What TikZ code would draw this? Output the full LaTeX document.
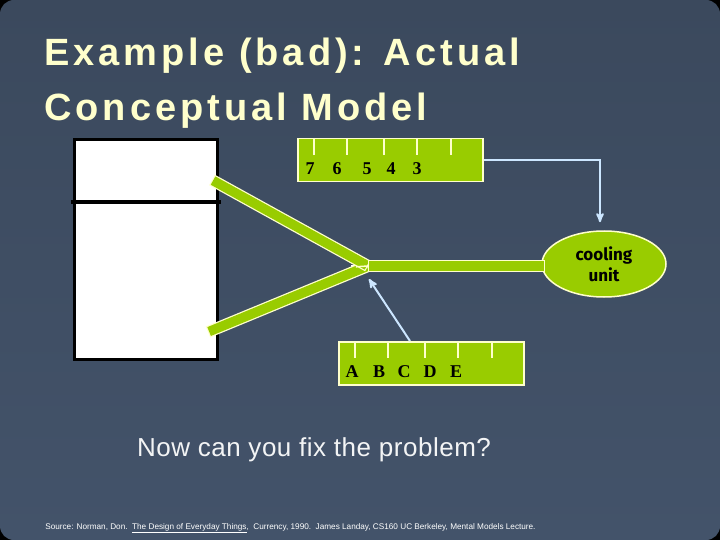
\documentclass[tikz,border=0pt]{standalone}
\usepackage{fontspec}
\setmainfont{Liberation Sans}
\newfontfamily\titlefont[LetterSpace=10.5]{Liberation Sans}
\newfontfamily\dialfont{Liberation Serif}
\newfontfamily\unitfont{Fira Sans}
\usepackage{tikz}
\usetikzlibrary{shapes.geometric, calc, arrows, positioning}
\definecolor{slate}{HTML}{3B495D}
\definecolor{slatelow}{HTML}{43536A}
\definecolor{leaf}{HTML}{99CC00}
\definecolor{paleyellow}{HTML}{FFFFCC}
\definecolor{skyline}{HTML}{CCE6FF}

\begin{document}
\begin{tikzpicture}[x=1pt,y=-1pt,>=stealth',semithick,
	title/.style={anchor=base west, inner sep=0, text=paleyellow, font=\titlefont\bfseries\fontsize{38}{40}\selectfont},
	dial/.style={draw=paleyellow, line width=1.5pt, fill=leaf, minimum width=185pt, minimum height=43pt, inner sep=0, anchor=north west},
	notch/.style={draw=paleyellow, line width=1.5pt},
	digit/.style={inner sep=0, text=black, font=\dialfont\bfseries\fontsize{18}{18}\selectfont},
	rod/.style={draw=paleyellow, line width=12pt, postaction={draw=leaf, line width=9.5pt, shorten >=1.2pt, shorten <=1.2pt}},
	feed/.style={->, draw=skyline, line width=2pt}]
	\useasboundingbox (0,0) rectangle (720,540);
	\fill[black] (0,0) rectangle (720,540);
	\shade[top color=slate, bottom color=slatelow, rounded corners=14pt] (0,0) rectangle (720,540);

	\node[title] (title1) at (44,66) {Example (bad): Actual};
	\node[title] (title2) at (44,121) {Conceptual Model};

	% fridge
	\node[draw=black, line width=3pt, fill=white, minimum width=143pt, minimum height=220pt, inner sep=0, anchor=north west] (fridge) at (73,138) {};
	\draw[line width=3.5pt] ($(fridge.north west)+(-2,64)$) -- ($(fridge.north east)+(2,64)$);

	% dials
	\node[dial] (temp) at (297,138) {};
	\foreach \x in {17,50,87,120,154}
		\draw[notch] ($(temp.north west)+(\x,0)$) -- ++(0,17);
	\foreach \x/\t in {13/7,40/6,70/5,94/4,120/3}
		\node[digit] (temp-\t) at ($(temp.north west)+(\x,31)$) {\t};
	\node[dial] (mode) at (338,341) {};
	\foreach \x in {17,50,87,120,154}
		\draw[notch] ($(mode.north west)+(\x,0)$) -- ++(0,17);
	\foreach \x/\t in {14/A,41/B,66/C,92/D,118/E}
		\node[digit] (mode-\t) at ($(mode.north west)+(\x,31)$) {\t};

	% cooling unit and linkage
	\node[ellipse, draw=paleyellow, line width=1.5pt, fill=leaf, minimum width=124pt, minimum height=66pt, align=center, inner sep=0,
		font=\unitfont\bfseries\fontsize{17}{21}\selectfont] (cool) at (604,264) {cooling\\unit};
	\coordinate (hub) at (368,266);
	\coordinate (upper) at (212,180);
	\coordinate (lower) at (208,332);
	\coordinate (hubin) at ($(hub)+(1,13)$);
	\node[fill=white, minimum size=5pt, inner sep=0] (pivot) at (353,267) {};
	\draw[rod] (lower) -- (hub);
	\draw[rod] (upper) -- (hub);
	\draw[rod] (hub) -- ($(cool.west)+(4,2)$);
	\draw[paleyellow, line width=1.5pt] (pivot) -- (hub);

	\draw[feed] (temp.east) -| ([xshift=-4pt]cool.north) [shorten >=8pt];
	\draw[feed] ($(mode.north west)+(72,0)$) -- (hubin);

	\node[anchor=base, inner sep=0, text=white!94!slate, font=\addfontfeature{LetterSpace=2}\fontsize{26}{30}\selectfont] (question) at (314,456) {Now can you fix the problem?};
	\node[anchor=base west, inner sep=0, text=white, font=\fontsize{8.2}{9}\selectfont] (source) at (45,529)
		{Source: Norman, Don.\ \ \underline{The Design of Everyday Things},\ \ Currency, 1990.\ \ James Landay, CS160 UC Berkeley, Mental Models Lecture.};
\end{tikzpicture}
\end{document}
